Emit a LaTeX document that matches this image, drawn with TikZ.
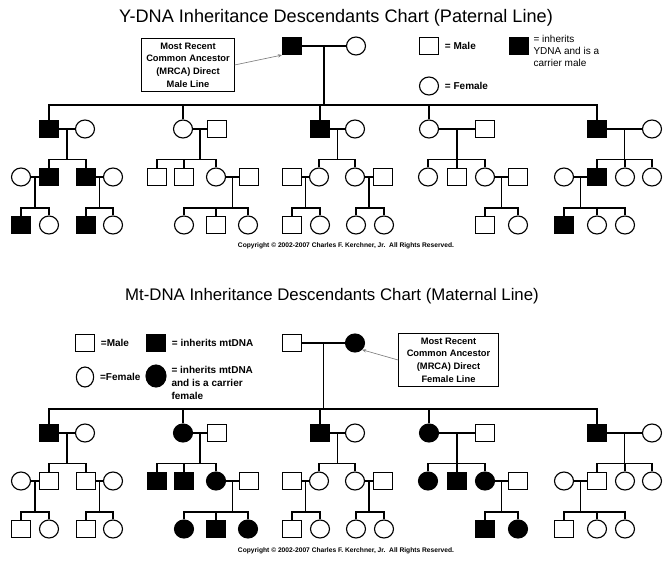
\documentclass[tikz,border=0pt]{standalone}
\usepackage{fontspec}
\setmainfont{Liberation Sans}
\usetikzlibrary{shapes.geometric,arrows.meta,positioning}

% one couple and the line down to its children
\newcommand{\family}[7]{%
	\draw (#1-#2-#3.east) -- coordinate (jn) (#1-#2-#4.west);
	\path (jn |- #1-#5-1.north) ++(0,-#6) coordinate (bar);
	\draw (jn) -- (bar);
	\foreach \k in {#7} \draw (#1-#5-\k.north) |- (bar);
}

\begin{document}
\begin{tikzpicture}[x=0.75pt,y=-0.75pt,line width=0.85pt]
\tikzset{
	male/.style = { draw=black, rectangle, minimum width=14.25pt, minimum height=12.75pt, inner sep=0pt },
	female/.style = { draw=black, ellipse, minimum width=14.25pt, minimum height=13.5pt, inner sep=0pt },
	maleDNA/.style = { male, fill=black },
	femaleDNA/.style = { female, fill=black },
	title/.style = { font=\fontsize{13.6}{16}\selectfont },
	legend/.style = { font=\fontsize{7.5}{9.5}\selectfont\bfseries, anchor=west, inner sep=0pt },
	mrca/.style = { draw=black, line width=0.6pt, align=center, font=\fontsize{7}{9.5}\selectfont\bfseries },
	pointer/.style = { draw=gray, line width=0.5pt, -{Stealth[length=3pt,width=2.5pt]} },
	copy/.style = { font=\fontsize{5}{6}\selectfont\bfseries }
}
\useasboundingbox (0,0) rectangle (672,564);

% ---------- Y-DNA chart
\node (ytitle) [title] at (336,18) {Y-DNA Inheritance Descendants Chart (Paternal Line)};
\node (y-0-1) [maleDNA] at (292,46) {};
\node (y-0-2) [female] at (356,46) {};
\node (ybox) [mrca, minimum width=69pt, minimum height=38pt] at (188,65) {Most Recent\\Common Ancestor\\(MRCA) Direct\\Male Line};
\draw [pointer] (ybox.east) -- (y-0-1.south west);

\node (ylegM) [male] at (429,46) {};
\node [legend, right=4pt of ylegM] {= Male};
\node (ylegF) [female] at (429,86) {};
\node [legend, right=4pt of ylegF] {= Female};
\node (ylegD) [maleDNA] at (519,46) {};
\node [legend, anchor=north west, align=left, font=\fontsize{7.5}{9}\selectfont] at (533,35) {= inherits\\YDNA and is a\\carrier male};

\foreach \i/\x/\s in {1/49/maleDNA,2/85/female,3/183/female,4/217/male,5/320/maleDNA,6/355/female,7/429/female,8/485/male,9/597/maleDNA,10/652/female}
	\node (y-1-\i) [\s] at (\x,129) {};
\foreach \i/\x/\s in {1/21/female,2/49/maleDNA,3/86/maleDNA,4/113/female,5/157/male,6/184/male,7/216/female,8/249/male,9/292/male,10/319/female,11/355/female,12/383/male,13/428/female,14/457/male,15/485/female,16/518/male,17/564/female,18/597/maleDNA,19/625/female,20/652/female}
	\node (y-2-\i) [\s] at (\x,177) {};
\foreach \i/\x/\s in {1/21/maleDNA,2/49/female,3/86/maleDNA,4/113/female,5/184/female,6/216/male,7/248/female,8/292/male,9/320/female,10/356/female,11/384/female,12/485/male,13/518/female,14/564/maleDNA,15/597/female,16/625/female}
	\node (y-3-\i) [\s] at (\x,225) {};
\node (ycopy) [copy] at (346,246) {Copyright \textcopyright{} 2002-2007 Charles F. Kerchner, Jr.\ \ All Rights Reserved.};

% ---------- mtDNA chart
\node (mtitle) [title, font=\fontsize{12.6}{15}\selectfont] at (332,296) {Mt-DNA Inheritance Descendants Chart (Maternal Line)};
\node (m-0-1) [male] at (292,343) {};
\node (m-0-2) [femaleDNA] at (355,343) {};
\node (mbox) [mrca, minimum width=75pt, minimum height=37pt] at (448.5,360) {Most Recent\\Common Ancestor\\(MRCA) Direct\\Female Line};
\draw [pointer] (mbox.west) -- (m-0-2.south east);

\node (mlegM) [male] at (85,343) {};
\node [legend, right=4pt of mlegM] {=Male};
\node (mlegD) [maleDNA] at (156,343) {};
\node [legend, right=4pt of mlegD] {= inherits mtDNA};
\node (mlegF) [female, minimum width=13pt, minimum height=15pt] at (85,377) {};
\node [legend, right=4pt of mlegF] {=Female};
\node (mlegC) [femaleDNA, minimum width=15pt, minimum height=16.5pt] at (156,376) {};
\node [legend, anchor=north west, align=left] at (171,366) {= inherits mtDNA\\and is a carrier\\female};

\foreach \i/\x/\s in {1/49/maleDNA,2/85/female,3/183/femaleDNA,4/217/male,5/320/maleDNA,6/355/female,7/429/femaleDNA,8/485/male,9/597/maleDNA,10/652/female}
	\node (m-1-\i) [\s] at (\x,433) {};
\foreach \i/\x/\s in {1/21/female,2/49/male,3/86/male,4/113/female,5/157/maleDNA,6/184/maleDNA,7/216/femaleDNA,8/249/male,9/292/male,10/319/female,11/355/female,12/383/male,13/428/femaleDNA,14/457/maleDNA,15/485/femaleDNA,16/518/male,17/564/female,18/597/male,19/625/female,20/652/female}
	\node (m-2-\i) [\s] at (\x,481) {};
\foreach \i/\x/\s in {1/21/male,2/49/female,3/86/male,4/113/female,5/184/femaleDNA,6/216/maleDNA,7/248/femaleDNA,8/292/male,9/320/female,10/356/female,11/384/female,12/485/maleDNA,13/518/femaleDNA,14/564/male,15/597/female,16/625/female}
	\node (m-3-\i) [\s] at (\x,529) {};
\node (mcopy) [copy] at (346,551) {Copyright \textcopyright{} 2002-2007 Charles F. Kerchner, Jr.\ \ All Rights Reserved.};

% ---------- lines of descent, same in both charts
\foreach \c in {y,m} {
	\family{\c}{0}{1}{2}{1}{15}{1,3,5,7,9}
	\family{\c}{1}{1}{2}{2}{8}{2,3}
	\family{\c}{1}{3}{4}{2}{8}{5,6,7}
	\family{\c}{1}{5}{6}{2}{8}{10,11}
	\family{\c}{1}{7}{8}{2}{8}{13,14,15}
	\family{\c}{1}{9}{10}{2}{8}{18,19,20}
	\family{\c}{2}{1}{2}{3}{8}{1,2}
	\family{\c}{2}{3}{4}{3}{8}{3,4}
	\family{\c}{2}{7}{8}{3}{8}{5,6,7}
	\family{\c}{2}{9}{10}{3}{8}{8,9}
	\family{\c}{2}{11}{12}{3}{8}{10,11}
	\family{\c}{2}{15}{16}{3}{8}{12,13}
	\family{\c}{2}{17}{18}{3}{8}{14,15,16}
}
\end{tikzpicture}
\end{document}
